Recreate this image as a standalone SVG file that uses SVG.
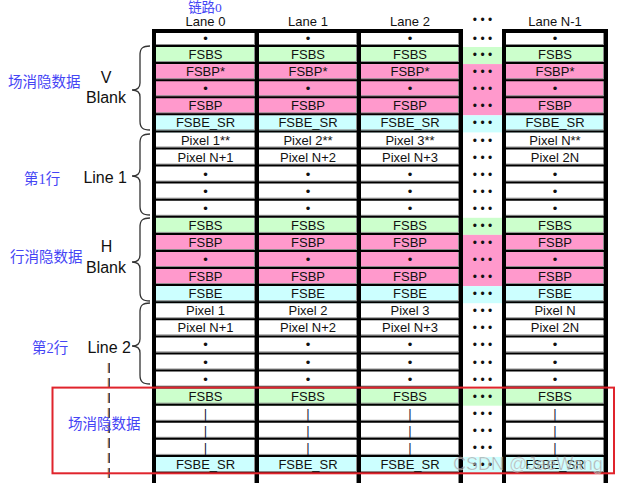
<svg xmlns="http://www.w3.org/2000/svg" width="618" height="483" viewBox="0 0 618 483">
<style>
text{font-family:"Liberation Sans",Arial,sans-serif}
.c{font-size:13px;text-anchor:middle;fill:#111}
.d{font-size:12px;text-anchor:middle;fill:#111}
.bar{font-size:13px;text-anchor:middle;fill:#1a1a40}
.h{font-size:13px;text-anchor:middle;fill:#111}
.lbl{font-size:16px;fill:#111}
.cn{font-family:"Liberation Serif","Noto Sans CJK SC",serif;font-size:14.5px;fill:#4545f5}
.brace{fill:none;stroke:#333;stroke-width:1.3}
.g{fill:#ccffcc}.p{fill:#ff99cc}.y{fill:#ccffff}
</style>
<rect width="618" height="483" fill="#fff"/>

<g id="headers">
<text class="cn" x="205" y="11.5" text-anchor="middle" style="font-size:13.5px">链路0</text>
<text class="h" x="205.5" y="25.5">Lane 0</text>
<text class="h" x="308" y="25.5">Lane 1</text>
<text class="h" x="410" y="25.5">Lane 2</text>
<text class="d" x="482.5" y="24">• • •</text>
<text class="h" x="555" y="25.5">Lane N-1</text>
</g>

<g id="bands">
<rect class="g" x="152" y="47" width="456" height="17.08"/>
<rect class="p" x="152" y="64.08" width="456" height="51.24"/>
<rect class="y" x="152" y="115.32" width="456" height="17.08"/>
<rect class="g" x="152" y="217.8" width="456" height="17.08"/>
<rect class="p" x="152" y="234.88" width="456" height="51.24"/>
<rect class="y" x="152" y="286.12" width="456" height="17.08"/>
<rect class="g" x="152" y="388.6" width="456" height="17.08"/>
<rect class="y" x="152" y="456.92" width="456" height="17.08"/>
</g>

<g id="grid">
<path fill="none" stroke="#8c8c8c" stroke-width="1" d="M156,44.5H459M506,44.5H604M156,61.6H459M506,61.6H604M156,78.7H459M506,78.7H604M156,95.7H459M506,95.7H604M156,112.8H459M506,112.8H604M156,129.9H459M506,129.9H604M156,147H459M506,147H604M156,164.1H459M506,164.1H604M156,181.1H459M506,181.1H604M156,198.2H459M506,198.2H604M156,215.3H459M506,215.3H604M156,232.4H459M506,232.4H604M156,249.5H459M506,249.5H604M156,266.5H459M506,266.5H604M156,283.6H459M506,283.6H604M156,300.7H459M506,300.7H604M156,317.8H459M506,317.8H604M156,334.9H459M506,334.9H604M156,351.9H459M506,351.9H604M156,369H459M506,369H604M156,386.1H459M506,386.1H604M156,403.2H459M506,403.2H604M156,420.3H459M506,420.3H604M156,437.3H459M506,437.3H604M156,454.4H459M506,454.4H604M156,471.5H459M506,471.5H604"/>
<path fill="none" stroke="#8c8c8c" stroke-width="1" d="M254.5,33V483M356.5,33V483M458.5,33V483M603.5,33V483"/>
<path fill="none" stroke="#000" stroke-width="2" d="M152,46H463M502,46H608M152,63.1H463M502,63.1H608M152,80.2H463M502,80.2H608M152,97.2H463M502,97.2H608M152,114.3H463M502,114.3H608M152,131.4H463M502,131.4H608M152,148.5H463M502,148.5H608M152,165.6H463M502,165.6H608M152,182.6H463M502,182.6H608M152,199.7H463M502,199.7H608M152,216.8H463M502,216.8H608M152,233.9H463M502,233.9H608M152,251H463M502,251H608M152,268H463M502,268H608M152,285.1H463M502,285.1H608M152,302.2H463M502,302.2H608M152,319.3H463M502,319.3H608M152,336.4H463M502,336.4H608M152,353.4H463M502,353.4H608M152,370.5H463M502,370.5H608M152,387.6H463M502,387.6H608M152,404.7H463M502,404.7H608M152,421.8H463M502,421.8H608M152,438.8H463M502,438.8H608M152,455.9H463M502,455.9H608M152,473H463M502,473H608"/>
<path fill="none" stroke="#000" stroke-width="4" d="M152,31H463M502,31H608M154,29V483M257,29V483M359,29V483M461,29V483M504,29V483M606,29V483"/>
</g>

<g id="row-0"><text class="c" x="205.5" y="43">•</text><text class="c" x="308" y="43">•</text><text class="c" x="410" y="43">•</text><text class="d" x="482.5" y="43">• • •</text><text class="c" x="555" y="43">•</text></g>
<g id="row-1"><text class="c" x="205.5" y="59.1">FSBS</text><text class="c" x="308" y="59.1">FSBS</text><text class="c" x="410" y="59.1">FSBS</text><text class="d" x="482.5" y="59.1">• • •</text><text class="c" x="555" y="59.1">FSBS</text></g>
<g id="row-2"><text class="c" x="205.5" y="76.2">FSBP*</text><text class="c" x="308" y="76.2">FSBP*</text><text class="c" x="410" y="76.2">FSBP*</text><text class="d" x="482.5" y="76.2">• • •</text><text class="c" x="555" y="76.2">FSBP*</text></g>
<g id="row-3"><text class="c" x="205.5" y="93.2">•</text><text class="c" x="308" y="93.2">•</text><text class="c" x="410" y="93.2">•</text><text class="d" x="482.5" y="93.2">• • •</text><text class="c" x="555" y="93.2">•</text></g>
<g id="row-4"><text class="c" x="205.5" y="110.3">FSBP</text><text class="c" x="308" y="110.3">FSBP</text><text class="c" x="410" y="110.3">FSBP</text><text class="d" x="482.5" y="110.3">• • •</text><text class="c" x="555" y="110.3">FSBP</text></g>
<g id="row-5"><text class="c" x="205.5" y="127.4">FSBE_SR</text><text class="c" x="308" y="127.4">FSBE_SR</text><text class="c" x="410" y="127.4">FSBE_SR</text><text class="d" x="482.5" y="127.4">• • •</text><text class="c" x="555" y="127.4">FSBE_SR</text></g>
<g id="row-6"><text class="c" x="205.5" y="144.5">Pixel 1**</text><text class="c" x="308" y="144.5">Pixel 2**</text><text class="c" x="410" y="144.5">Pixel 3**</text><text class="d" x="482.5" y="144.5">• • •</text><text class="c" x="555" y="144.5">Pixel N**</text></g>
<g id="row-7"><text class="c" x="205.5" y="161.6">Pixel N+1</text><text class="c" x="308" y="161.6">Pixel N+2</text><text class="c" x="410" y="161.6">Pixel N+3</text><text class="d" x="482.5" y="161.6">• • •</text><text class="c" x="555" y="161.6">Pixel 2N</text></g>
<g id="row-8"><text class="c" x="205.5" y="178.6">•</text><text class="c" x="308" y="178.6">•</text><text class="c" x="410" y="178.6">•</text><text class="d" x="482.5" y="178.6">• • •</text><text class="c" x="555" y="178.6">•</text></g>
<g id="row-9"><text class="c" x="205.5" y="195.7">•</text><text class="c" x="308" y="195.7">•</text><text class="c" x="410" y="195.7">•</text><text class="d" x="482.5" y="195.7">• • •</text><text class="c" x="555" y="195.7">•</text></g>
<g id="row-10"><text class="c" x="205.5" y="212.8">•</text><text class="c" x="308" y="212.8">•</text><text class="c" x="410" y="212.8">•</text><text class="d" x="482.5" y="212.8">• • •</text><text class="c" x="555" y="212.8">•</text></g>
<g id="row-11"><text class="c" x="205.5" y="229.9">FSBS</text><text class="c" x="308" y="229.9">FSBS</text><text class="c" x="410" y="229.9">FSBS</text><text class="d" x="482.5" y="229.9">• • •</text><text class="c" x="555" y="229.9">FSBS</text></g>
<g id="row-12"><text class="c" x="205.5" y="247">FSBP</text><text class="c" x="308" y="247">FSBP</text><text class="c" x="410" y="247">FSBP</text><text class="d" x="482.5" y="247">• • •</text><text class="c" x="555" y="247">FSBP</text></g>
<g id="row-13"><text class="c" x="205.5" y="264">•</text><text class="c" x="308" y="264">•</text><text class="c" x="410" y="264">•</text><text class="d" x="482.5" y="264">• • •</text><text class="c" x="555" y="264">•</text></g>
<g id="row-14"><text class="c" x="205.5" y="281.1">FSBP</text><text class="c" x="308" y="281.1">FSBP</text><text class="c" x="410" y="281.1">FSBP</text><text class="d" x="482.5" y="281.1">• • •</text><text class="c" x="555" y="281.1">FSBP</text></g>
<g id="row-15"><text class="c" x="205.5" y="298.2">FSBE</text><text class="c" x="308" y="298.2">FSBE</text><text class="c" x="410" y="298.2">FSBE</text><text class="d" x="482.5" y="298.2">• • •</text><text class="c" x="555" y="298.2">FSBE</text></g>
<g id="row-16"><text class="c" x="205.5" y="315.3">Pixel 1</text><text class="c" x="308" y="315.3">Pixel 2</text><text class="c" x="410" y="315.3">Pixel 3</text><text class="d" x="482.5" y="315.3">• • •</text><text class="c" x="555" y="315.3">Pixel N</text></g>
<g id="row-17"><text class="c" x="205.5" y="332.4">Pixel N+1</text><text class="c" x="308" y="332.4">Pixel N+2</text><text class="c" x="410" y="332.4">Pixel N+3</text><text class="d" x="482.5" y="332.4">• • •</text><text class="c" x="555" y="332.4">Pixel 2N</text></g>
<g id="row-18"><text class="c" x="205.5" y="349.4">•</text><text class="c" x="308" y="349.4">•</text><text class="c" x="410" y="349.4">•</text><text class="d" x="482.5" y="349.4">• • •</text><text class="c" x="555" y="349.4">•</text></g>
<g id="row-19"><text class="c" x="205.5" y="366.5">•</text><text class="c" x="308" y="366.5">•</text><text class="c" x="410" y="366.5">•</text><text class="d" x="482.5" y="366.5">• • •</text><text class="c" x="555" y="366.5">•</text></g>
<g id="row-20"><text class="c" x="205.5" y="383.6">•</text><text class="c" x="308" y="383.6">•</text><text class="c" x="410" y="383.6">•</text><text class="d" x="482.5" y="383.6">• • •</text><text class="c" x="555" y="383.6">•</text></g>
<g id="row-21"><text class="c" x="205.5" y="400.7">FSBS</text><text class="c" x="308" y="400.7">FSBS</text><text class="c" x="410" y="400.7">FSBS</text><text class="d" x="482.5" y="400.7">• • •</text><text class="c" x="555" y="400.7">FSBS</text></g>
<g id="row-22"><text class="bar" x="205.5" y="417.8">|</text><text class="bar" x="308" y="417.8">|</text><text class="bar" x="410" y="417.8">|</text><text class="d" x="482.5" y="417.8">• • •</text><text class="bar" x="555" y="417.8">|</text></g>
<g id="row-23"><text class="bar" x="205.5" y="434.8">|</text><text class="bar" x="308" y="434.8">|</text><text class="bar" x="410" y="434.8">|</text><text class="d" x="482.5" y="434.8">• • •</text><text class="bar" x="555" y="434.8">|</text></g>
<g id="row-24"><text class="bar" x="205.5" y="451.9">|</text><text class="bar" x="308" y="451.9">|</text><text class="bar" x="410" y="451.9">|</text><text class="d" x="482.5" y="451.9">• • •</text><text class="bar" x="555" y="451.9">|</text></g>
<g id="row-25"><text class="c" x="205.5" y="469">FSBE_SR</text><text class="c" x="308" y="469">FSBE_SR</text><text class="c" x="410" y="469">FSBE_SR</text><text class="d" x="482.5" y="469">• • •</text><text class="c" x="555" y="469">FSBE_SR</text></g>

<g id="braces">
<path class="brace" d="M150,46 C143,46 140,48 140,55 L140,83 C140,88 137,90 132,90 C137,90 140,92 140,97 L140,121 C140,128 143,130 150,130"/>
<path class="brace" d="M150,134 C143,134 140,136 140,143 L140,169 C140,174 137,176 132,176 C137,176 140,178 140,183 L140,206 C140,213 143,215 150,215"/>
<path class="brace" d="M150,218 C143,218 140,220 140,227 L140,255 C140,260 137,262 132,262 C137,262 140,264 140,269 L140,292 C140,299 143,301 150,301"/>
<path class="brace" d="M150,303 C143,303 140,305 140,312 L140,339 C140,344 137,346 132,346 C137,346 140,348 140,353 L140,375 C140,382 143,384 150,384"/>
</g>

<g id="left-labels">
<text class="cn" x="8" y="87">场消隐数据</text>
<text class="lbl" x="106" y="83" text-anchor="middle">V</text>
<text class="lbl" x="106" y="103" text-anchor="middle">Blank</text>
<text class="cn" x="24" y="184">第1行</text>
<text class="lbl" x="127" y="183" text-anchor="end">Line 1</text>
<text class="cn" x="10" y="262">行消隐数据</text>
<text class="lbl" x="106.5" y="252" text-anchor="middle">H</text>
<text class="lbl" x="106" y="273" text-anchor="middle">Blank</text>
<text class="cn" x="32" y="353">第2行</text>
<text class="lbl" x="131" y="353" text-anchor="end">Line 2</text>
</g>

<g id="dashed-line">
<path d="M108.3,363V483" stroke="#e08a2a" stroke-width="1.2" stroke-dasharray="10,5" fill="none"/>
<path d="M109.3,363V483" stroke="#1f2f66" stroke-width="1.2" stroke-dasharray="10,5" fill="none"/>
</g>

<g id="red-box">
<rect x="52.5" y="387.6" width="561.5" height="85.7" fill="none" stroke="#e0242c" stroke-width="2"/>
<text class="cn" x="68" y="429">场消隐数据</text>
</g>

<g id="watermark">
<text x="453" y="470" font-size="18" fill="#8a8a8a" fill-opacity="0.6" stroke="#fff" stroke-opacity="0.5" stroke-width="0.6">CSDN @JaeWang</text>
</g>
</svg>
